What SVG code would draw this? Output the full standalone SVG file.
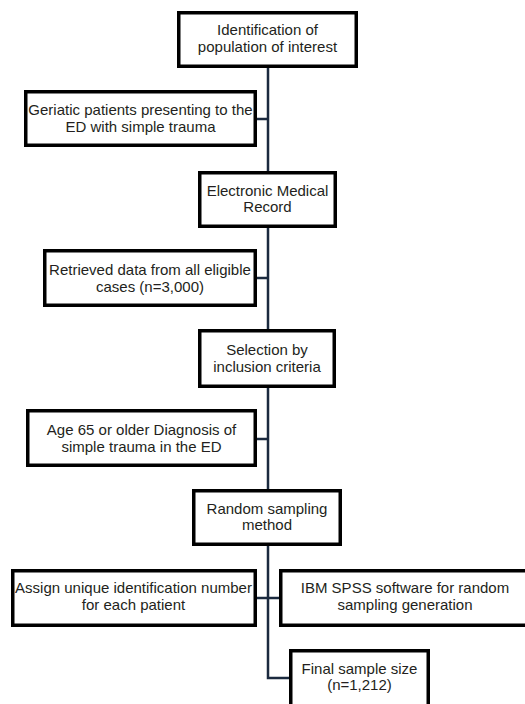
<svg xmlns="http://www.w3.org/2000/svg" width="525" height="704" viewBox="0 0 525 704">
<style>
.box{fill:#ffffff;stroke:#000000;stroke-width:3.5}
.t{font-family:"Liberation Sans",Arial,sans-serif;font-size:15px;fill:#231f20;text-anchor:middle}
.c{stroke:#1b2a3f;stroke-width:2.5;fill:none}
</style>
<rect width="525" height="704" fill="#ffffff"/>
<g id="connectors">
<path class="c" d="M268,68 V678 H289"/>
<path class="c" d="M257,119 H268"/>
<path class="c" d="M257,278 H268"/>
<path class="c" d="M257,439 H268"/>
<path class="c" d="M257,598 H279"/>
</g>
<g id="n1"><rect class="box" x="178.75" y="12.75" width="177.5" height="53.5"/>
<text class="t" x="267.5" y="35">Identification of</text><text class="t" x="267.5" y="52">population of interest</text></g>
<g id="n2"><rect class="box" x="25.75" y="91.75" width="229.5" height="53.5"/>
<text class="t" x="140.5" y="115">Geriatic patients presenting to the</text><text class="t" x="140.5" y="132">ED with simple trauma</text></g>
<g id="n3"><rect class="box" x="199.75" y="172.75" width="135.5" height="53.5"/>
<text class="t" x="267.5" y="196">Electronic Medical</text><text class="t" x="267.5" y="212">Record</text></g>
<g id="n4"><rect class="box" x="44.75" y="250.75" width="210.5" height="54.5"/>
<text class="t" x="150" y="275">Retrieved data from all eligible</text><text class="t" x="150" y="292">cases (n=3,000)</text></g>
<g id="n5"><rect class="box" x="199.75" y="330.75" width="134.5" height="55.5"/>
<text class="t" x="267" y="355">Selection by</text><text class="t" x="267" y="372">inclusion criteria</text></g>
<g id="n6"><rect class="box" x="27.75" y="410.75" width="227.5" height="54.5"/>
<text class="t" x="141.5" y="435">Age 65 or older Diagnosis of</text><text class="t" x="141.5" y="452">simple trauma in the ED</text></g>
<g id="n7"><rect class="box" x="193.75" y="490.75" width="146.5" height="53.5"/>
<text class="t" x="267" y="514">Random sampling</text><text class="t" x="267" y="530">method</text></g>
<g id="n8"><rect class="box" x="12.75" y="570.75" width="242.5" height="54.5"/>
<text class="t" x="133.5" y="593">Assign unique identification number</text><text class="t" x="133.5" y="610">for each patient</text></g>
<g id="n9"><rect class="box" x="280.75" y="570.75" width="260" height="54.5"/>
<text class="t" x="405" y="593">IBM SPSS software for random</text><text class="t" x="405" y="610">sampling generation</text></g>
<g id="n10"><rect class="box" x="290.75" y="650.75" width="137.5" height="60"/>
<text class="t" x="359.5" y="674">Final sample size</text><text class="t" x="359.5" y="690">(n=1,212)</text></g>
</svg>
